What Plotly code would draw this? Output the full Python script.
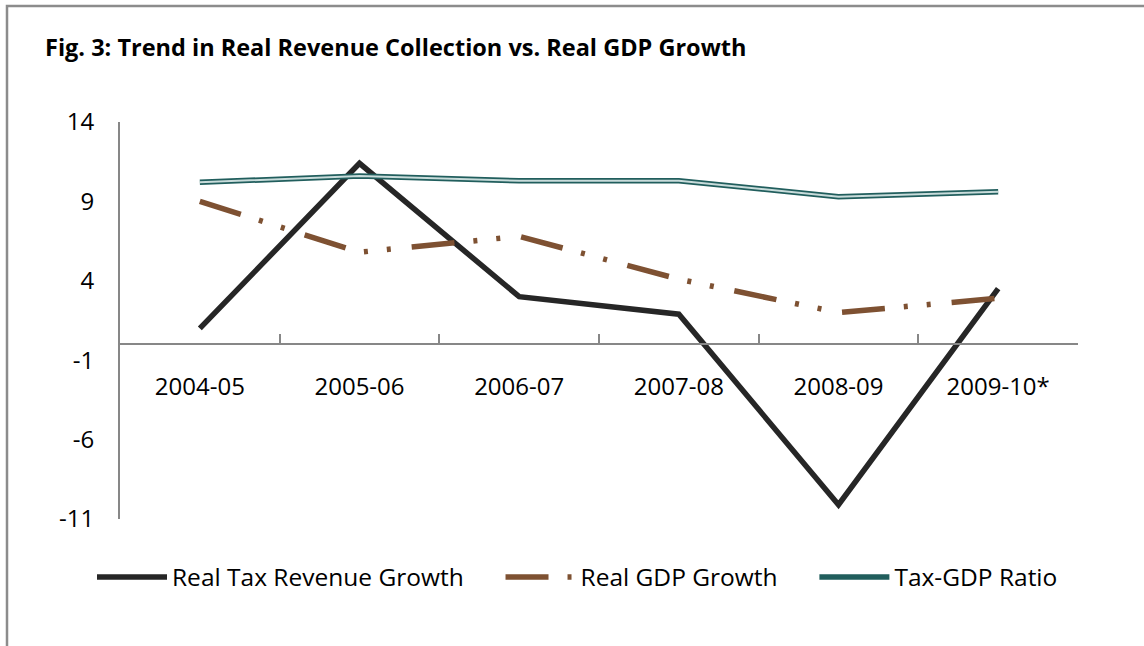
import plotly.graph_objects as go

categories = ["2004-05", "2005-06", "2006-07", "2007-08", "2008-09", "2009-10*"]
real_tax_growth = [1.0, 11.4, 3.0, 1.9, -10.1, 3.5]
real_gdp_growth = [9.0, 5.8, 6.8, 4.1, 2.0, 2.9]
tax_gdp_ratio = [10.2, 10.6, 10.3, 10.3, 9.3, 9.6]
y_tick_values = [-11, -6, -1, 4, 9, 14]
y_tick_labels = ["-11", "-6", "-1", "4", "9", "14"]

FONT = "Open Sans"
GRAY = "#878787"
PAD = "\u00a0" * 5

W, H = 1144, 646
ML, MR, MT, MB = 120, 66, 122, 127
PW, PH = W - ML - MR, H - MT - MB


def px_x(p):
    return (p - ML) / PW


def px_y(p):
    return (H - MB - p) / PH


fig = go.Figure()
fig.add_trace(go.Scatter(
    x=categories, y=real_tax_growth, mode="lines", name="Real Tax Revenue Growth" + PAD,
    line=dict(color="#262626", width=5.5)))
fig.add_trace(go.Scatter(
    x=categories, y=real_gdp_growth, mode="lines", name="Real GDP Growth" + PAD,
    line=dict(color="#7E5132", width=5.5, dash="43px,19px,4px,19px,4px,21px")))
fig.add_trace(go.Scatter(
    x=categories, y=tax_gdp_ratio, mode="lines", name="Tax-GDP Ratio",
    line=dict(color="#215E5D", width=5.5)))
fig.add_trace(go.Scatter(
    x=categories, y=tax_gdp_ratio, mode="lines", name="Tax-GDP Ratio",
    showlegend=False, line=dict(color="#C9DCDB", width=2)))

y_min, y_max = -11, 14
fig.update_layout(
    width=W, height=H,
    margin=dict(l=ML, r=MR, t=MT, b=MB),
    paper_bgcolor="white", plot_bgcolor="white",
    font=dict(family=FONT, size=24, color="black"),
    title=dict(text="<b>Fig. 3: Trend in Real Revenue Collection vs. Real GDP Growth</b>",
               x=45 / W, xanchor="left", y=1 - 48 / H, yanchor="middle",
               font=dict(family=FONT, size=23.5, color="black")),
    showlegend=True,
    legend=dict(orientation="h", x=px_x(92), xanchor="left", y=px_y(577), yanchor="middle",
                itemwidth=70, font=dict(family=FONT, size=24.5), bgcolor="rgba(0,0,0,0)"),
    xaxis=dict(type="category", anchor="free", position=(0 - y_min) / (y_max - y_min),
               showline=True, linecolor=GRAY, linewidth=2, showgrid=False, zeroline=False,
               ticks="inside", ticklen=9, tickwidth=2, tickcolor=GRAY, tickson="boundaries",
               ticklabelstandoff=21, range=[-0.5, 5.5], tickfont=dict(size=24)),
    yaxis=dict(range=[y_min, y_max], tickvals=y_tick_values, ticktext=y_tick_labels,
               showline=True, linecolor=GRAY, linewidth=2, showgrid=False, zeroline=False,
               ticks="", ticklabelstandoff=19, tickfont=dict(size=24)),
    shapes=[dict(type="rect", xref="paper", yref="paper", x0=px_x(7), x1=px_x(1160),
                 y0=px_y(660), y1=px_y(6), line=dict(color="#8C8C8C", width=2.5),
                 fillcolor="rgba(0,0,0,0)", layer="below")],
)

fig.write_html("out.html")
